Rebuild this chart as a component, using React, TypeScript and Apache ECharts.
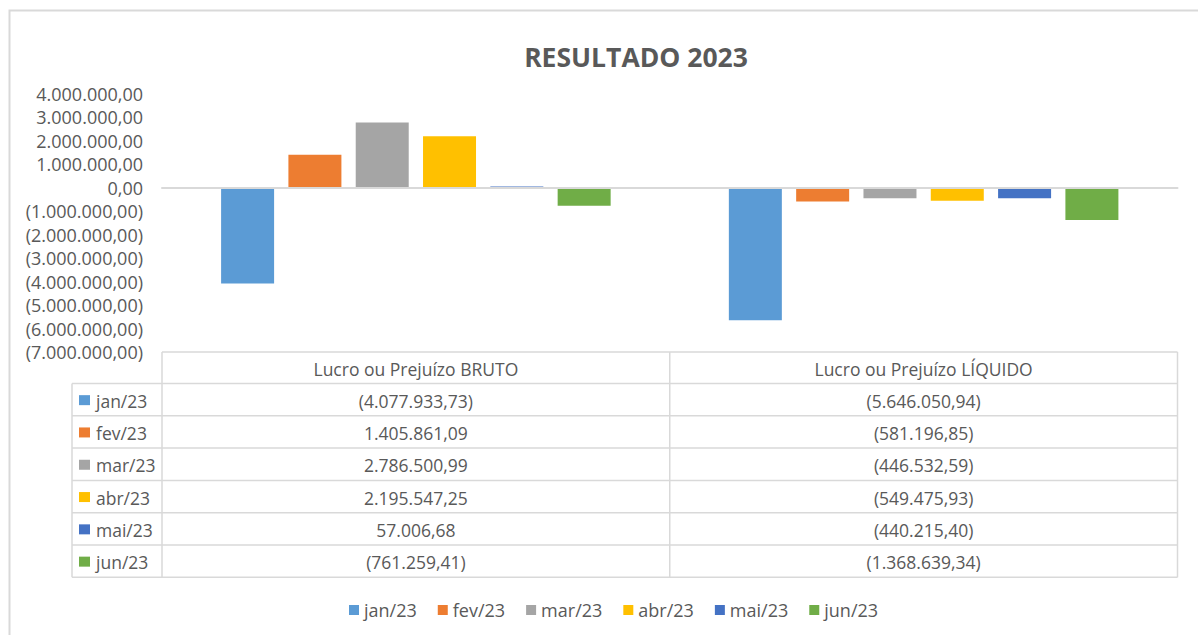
import React, { useEffect, useRef } from "react";
import * as echarts from "echarts";

const categories = ["Lucro ou Prejuízo BRUTO", "Lucro ou Prejuízo LÍQUIDO"];
const months = ["jan/23", "fev/23", "mar/23", "abr/23", "mai/23", "jun/23"];
const janValues = [-4077933.73, -5646050.94];
const fevValues = [1405861.09, -581196.85];
const marValues = [2786500.99, -446532.59];
const abrValues = [2195547.25, -549475.93];
const maiValues = [57006.68, -440215.4];
const junValues = [-761259.41, -1368639.34];
const colors = ["#5B9BD5", "#ED7D31", "#A5A5A5", "#FFC000", "#4472C4", "#70AD47"];
const seriesValues = [janValues, fevValues, marValues, abrValues, maiValues, junValues];

const FONT = "Open Sans";
const TEXT = "#595959";
const LINE = "#d9d9d9";

function fmt(v: number): string {
  const abs = Math.abs(v);
  const fixed = abs.toFixed(2);
  const [intPart, dec] = fixed.split(".");
  const withDots = intPart.replace(/\B(?=(\d{3})+(?!\d))/g, ".");
  const s = withDots + "," + dec;
  return v < 0 ? "(" + s + ")" : s;
}

export default function App() {
  const ref = useRef<HTMLDivElement>(null);
  useEffect(() => {
    if (!ref.current) return;
    const chart = echarts.init(ref.current, undefined, { renderer: "svg" });

    const W = 1198;
    const gridLeft = 162;
    const gridRight = 20.5;
    const gridTop = 94;
    const gridBottomY = 352;
    const plotRight = W - gridRight;
    const midX = (gridLeft + plotRight) / 2;
    const colLeftX = 72;
    const headerH = 31.5;
    const rowH = 32.3;
    const tableTop = gridBottomY;
    const headerBottom = tableTop + headerH;
    const tableBottom = headerBottom + rowH * months.length;
    const tableFont = `17.5px "${FONT}"`;

    const graphics: any[] = [];
    graphics.push({
      type: "rect",
      shape: { x: 9.5, y: 10.5, width: 1400, height: 900 },
      style: { fill: "none", stroke: LINE, lineWidth: 2 },
      silent: true,
    });
    const hLine = (x1: number, x2: number, y: number) =>
      graphics.push({
        type: "line",
        shape: { x1, y1: y, x2, y2: y },
        style: { stroke: LINE, lineWidth: 1.5 },
        silent: true,
      });
    const vLine = (x: number, y1: number, y2: number) =>
      graphics.push({
        type: "line",
        shape: { x1: x, y1, x2: x, y2 },
        style: { stroke: LINE, lineWidth: 1.5 },
        silent: true,
      });
    hLine(gridLeft, plotRight, tableTop);
    for (let i = 0; i <= months.length; i++) {
      hLine(colLeftX, plotRight, headerBottom + rowH * i);
    }
    vLine(colLeftX, headerBottom, tableBottom);
    vLine(gridLeft, tableTop, tableBottom);
    vLine(midX, tableTop, tableBottom);
    vLine(plotRight, tableTop, tableBottom);

    const colCenters = [(gridLeft + midX) / 2, (midX + plotRight) / 2];
    categories.forEach((c, ci) => {
      graphics.push({
        type: "text",
        style: {
          text: c,
          x: colCenters[ci],
          y: tableTop + headerH / 2 + 1,
          textAlign: "center",
          textVerticalAlign: "middle",
          font: tableFont,
          fill: TEXT,
        },
        silent: true,
      });
    });
    months.forEach((m, mi) => {
      const cy = headerBottom + rowH * mi + rowH / 2 + 1;
      graphics.push({
        type: "rect",
        shape: { x: 79, y: cy - 5.5, width: 11, height: 10 },
        style: { fill: colors[mi] },
        silent: true,
      });
      graphics.push({
        type: "text",
        style: {
          text: m,
          x: 96,
          y: cy,
          textAlign: "left",
          textVerticalAlign: "middle",
          font: tableFont,
          fill: TEXT,
        },
        silent: true,
      });
      seriesValues[mi].forEach((v, ci) => {
        graphics.push({
          type: "text",
          style: {
            text: fmt(v),
            x: colCenters[ci],
            y: cy,
            textAlign: "center",
            textVerticalAlign: "middle",
            font: tableFont,
            fill: TEXT,
          },
          silent: true,
        });
      });
    });

    chart.setOption({
      animation: false,
      backgroundColor: "#ffffff",
      title: {
        text: "RESULTADO 2023",
        left: 631,
        top: 38,
        textAlign: "center",
        textStyle: { fontFamily: FONT, fontWeight: "bold", fontSize: 26.5, color: TEXT },
      },
      legend: {
        data: months,
        left: 344,
        top: 596,
        icon: "rect",
        itemWidth: 10,
        itemHeight: 10,
        itemGap: 21,
        textStyle: { fontFamily: FONT, fontSize: 18, color: TEXT },
      },
      grid: {
        left: gridLeft,
        right: gridRight,
        top: gridTop,
        bottom: 635 - gridBottomY,
        containLabel: false,
      },
      xAxis: {
        type: "category",
        data: categories,
        z: 5,
        axisLine: { onZero: true, lineStyle: { color: LINE, width: 2 } },
        axisTick: { show: false },
        axisLabel: { show: false },
      },
      yAxis: {
        type: "value",
        min: -7000000,
        max: 4000000,
        interval: 1000000,
        axisLine: { show: false },
        axisTick: { show: false },
        splitLine: { show: false },
        axisLabel: {
          margin: 19,
          fontFamily: FONT,
          fontSize: 18,
          color: TEXT,
          formatter: (v: number) => fmt(v),
        },
      },
      graphic: graphics,
      series: months.map((m, i) => ({
        name: m,
        type: "bar",
        data: seriesValues[i],
        barWidth: 53,
        barGap: "27%",
        itemStyle: { color: colors[i] },
      })),
    });
    return () => chart.dispose();
  }, []);
  return (
    <div
      ref={ref}
      style={{ position: "fixed", left: 0, top: 0, width: 1198, height: 635 }}
    />
  );
}
